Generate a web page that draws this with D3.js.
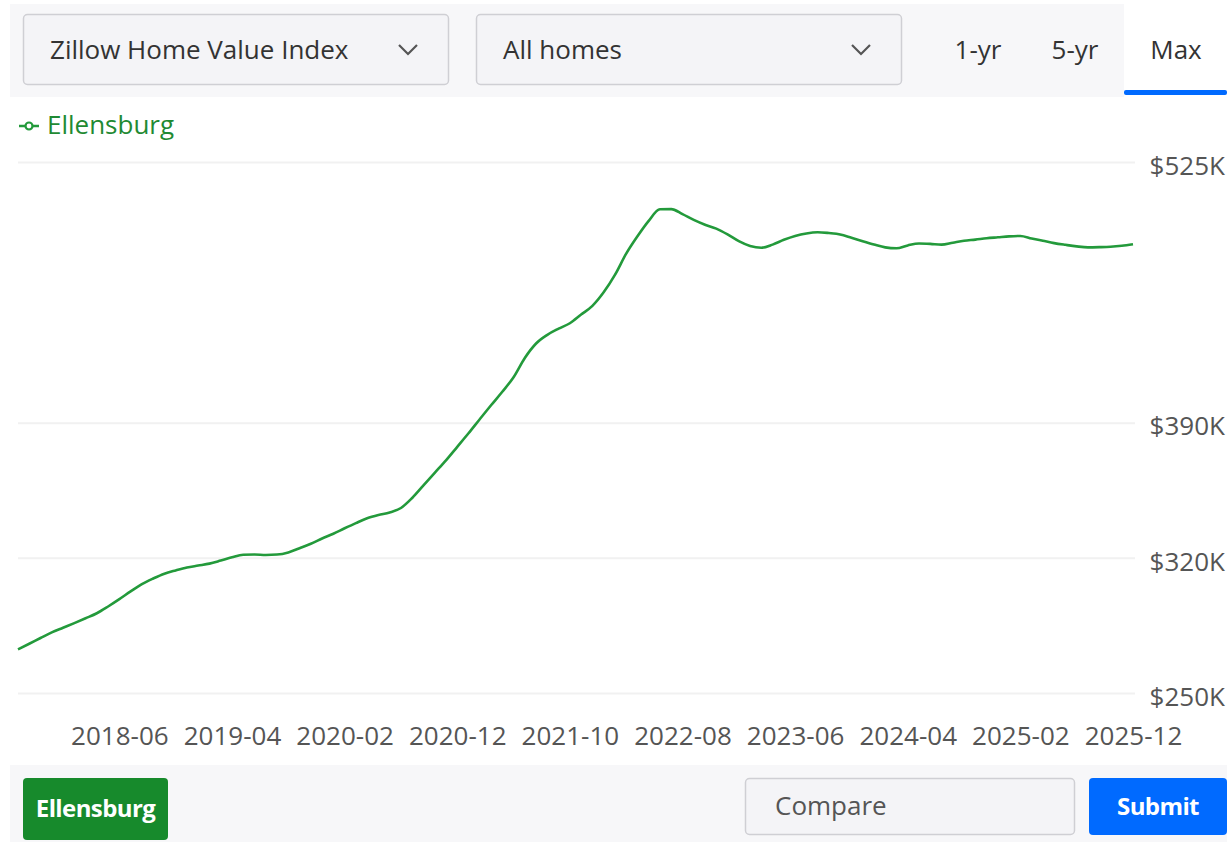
<!DOCTYPE html>
<html>
<head>
<meta charset="utf-8">
<script src="https://cdn.jsdelivr.net/npm/d3@7"></script>
<style>
	body { margin: 0; background: #fff; font-family: 'Open Sans', sans-serif; }
	svg { display: block; }
	.axis path { display: none; }
	.axis text { fill: #555; font-family: 'Open Sans', sans-serif; font-size: 26px; }
	.grid line { stroke: #f1f1f1; stroke-width: 2; }
</style>
</head>
<body>
<svg width="1227" height="842"></svg>
<script>
const cityName = 'Ellensburg';
const startMonth = '2017-09';
// Zillow home value index, thousands of dollars, monthly from 2017-09 to 2025-12
const values = [
	272.6, 275.5, 278.5, 281.4, 283.8, 286.2, 288.7, 291.3, 294.8, 298.6,
	302.6, 306.4, 309.3, 311.8, 313.5, 315.0, 316.0, 317.0, 318.6, 320.3,
	321.6, 321.7, 321.5, 321.7, 322.8, 325.0, 327.3, 330.0, 332.5, 335.3,
	338.0, 340.5, 342.2, 343.5, 345.8, 351.0, 357.5, 364.0, 370.5, 377.5,
	384.5, 391.8, 399.0, 406.0, 413.5, 423.5, 431.0, 435.5, 438.7, 441.5,
	446.0, 450.5, 457.5, 466.5, 477.5, 486.5, 494.5, 500.5, 500.6, 498.0,
	495.0, 492.5, 490.5, 487.5, 484.0, 481.5, 480.6, 482.2, 484.7, 486.7,
	488.0, 488.6, 488.2, 487.5, 485.8, 484.0, 482.3, 480.8, 480.3, 481.8,
	482.8, 482.6, 482.2, 483.2, 484.2, 484.8, 485.5, 486.0, 486.5, 486.7,
	485.4, 484.2, 483.0, 482.1, 481.3, 480.8, 480.9, 481.1, 481.6, 482.4
];
const xTickLabels = ['2018-06', '2019-04', '2020-02', '2020-12', '2021-10', '2022-08', '2023-06', '2024-04', '2025-02', '2025-12'];
const yTicks = [250, 320, 390, 525];
const metricOptions = ['Zillow Home Value Index', 'All homes'];
const rangeTabs = ['1-yr', '5-yr', 'Max'];

const parseMonth = d3.timeParse('%Y-%m');
const fmtMonth = d3.timeFormat('%Y-%m');
const months = d3.range(values.length).map(i => fmtMonth(d3.timeMonth.offset(parseMonth(startMonth), i)));
const data = values.map((v, i) => ({month: months[i], value: v}));

const svg = d3.select('svg');
const green = '#239a3b';

// top controls band
svg.append('rect').attr('x', 10).attr('y', 4).attr('width', 1114).attr('height', 93).attr('fill', '#f7f7f9');
svg.append('rect').attr('x', 1124).attr('y', 4).attr('width', 103).attr('height', 93).attr('fill', '#fff');

metricOptions.forEach((label, i) => {
	const x0 = 23 + i * 453;
	svg.append('rect').attr('x', x0 + 0.5).attr('y', 14.5).attr('width', 425).attr('height', 70).attr('rx', 4)
		.attr('fill', '#f4f4f7').attr('stroke', '#cfcfd4').attr('stroke-width', 1.5);
	svg.append('text').attr('x', x0 + 27).attr('y', 59).attr('fill', '#333').attr('font-size', 26).text(label);
	svg.append('path').attr('d', `M${x0 + 376},${45} l9,9 l9,-9`).attr('fill', 'none').attr('stroke', '#555').attr('stroke-width', 2.2);
});

const tabX = [978, 1075, 1176];
rangeTabs.forEach((t, i) => {
	svg.append('text').attr('x', tabX[i]).attr('y', 59).attr('text-anchor', 'middle').attr('fill', '#333').attr('font-size', 26).text(t);
});
svg.append('rect').attr('x', 1124).attr('y', 90).attr('width', 103).attr('height', 5).attr('rx', 2).attr('fill', '#006aff');

// legend
svg.append('line').attr('x1', 19).attr('x2', 39).attr('y1', 126).attr('y2', 126).attr('stroke', green).attr('stroke-width', 2.5);
svg.append('circle').attr('cx', 29).attr('cy', 126).attr('r', 3.5).attr('fill', '#fff').attr('stroke', green).attr('stroke-width', 2.2);
svg.append('text').attr('x', 47).attr('y', 134).attr('fill', '#1f8a33').attr('font-size', 26).text(cityName);

// scales
const x = d3.scaleLinear().domain([0, values.length - 1]).range([18, 1133]);
const y = d3.scaleLinear().domain([250, 525]).range([693, 162]);

svg.append('g')
	.attr('class', 'axis grid')
	.attr('transform', 'translate(1225,0)')
	.call(d3.axisLeft(y).tickValues(yTicks).tickSize(1225 - 18).tickFormat(''));

svg.append('g')
	.attr('class', 'axis axis--y')
	.attr('transform', 'translate(1225,0)')
	.call(d3.axisLeft(y).tickValues(yTicks).tickSize(0).tickPadding(0).tickFormat(d => '$' + d + 'K'))
	.selectAll('text').attr('dy', '0.47em');

// grid lines stop before the labels
svg.selectAll('.grid line').attr('x1', -(1225 - 18)).attr('x2', -90);

const tickIdx = xTickLabels.map(l => months.indexOf(l));
svg.append('g')
	.attr('class', 'axis axis--x')
	.attr('transform', 'translate(0,722)')
	.call(d3.axisBottom(x).tickValues(tickIdx).tickSize(0).tickPadding(0).tickFormat((d, i) => xTickLabels[i]))
	.selectAll('text').attr('dy', '0.9em');

const line = d3.line().x((d, i) => x(i)).y(d => y(d.value)).curve(d3.curveMonotoneX);
svg.append('path').datum(data).attr('d', line).attr('fill', 'none').attr('stroke', green).attr('stroke-width', 2.6);

// bottom band
svg.append('rect').attr('x', 10).attr('y', 765).attr('width', 1217).attr('height', 77).attr('fill', '#f7f7f9');
svg.append('rect').attr('x', 23).attr('y', 778).attr('width', 145).attr('height', 62).attr('rx', 4).attr('fill', '#178a2c');
svg.append('text').attr('x', 95.5).attr('y', 817).attr('text-anchor', 'middle').attr('fill', '#fff').attr('font-size', 24).attr('font-weight', 'bold').attr('letter-spacing', -0.6).text(cityName);
svg.append('rect').attr('x', 745.5).attr('y', 778.5).attr('width', 329).attr('height', 56).attr('rx', 4).attr('fill', '#f4f4f7').attr('stroke', '#cfcfd4').attr('stroke-width', 1.5);
svg.append('text').attr('x', 775).attr('y', 815).attr('fill', '#555').attr('font-size', 26).text('Compare');
svg.append('rect').attr('x', 1089).attr('y', 778).attr('width', 138).attr('height', 57).attr('rx', 4).attr('fill', '#006aff');
svg.append('text').attr('x', 1158).attr('y', 815).attr('text-anchor', 'middle').attr('fill', '#fff').attr('font-size', 24).attr('font-weight', 'bold').attr('letter-spacing', -0.6).text('Submit');
</script>
</body>
</html>
